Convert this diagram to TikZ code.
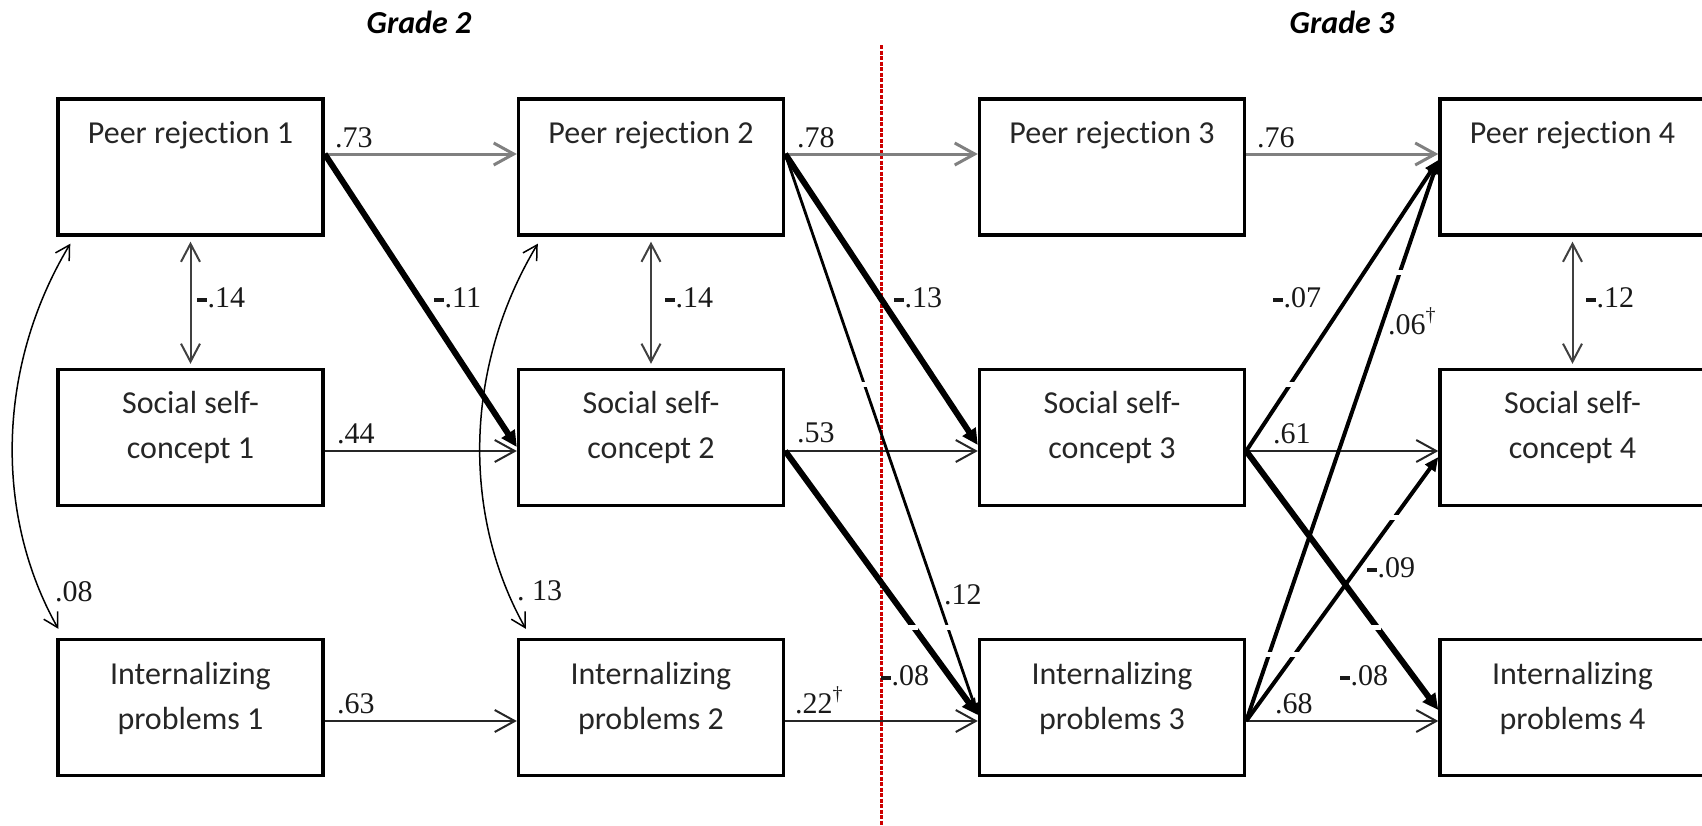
\documentclass[tikz,border=0pt]{standalone}
\usepackage{fontspec}
\setmainfont{Liberation Serif}
\newfontfamily\calib[Ligatures={NoCommon,NoContextual}]{Carlito}
\usetikzlibrary{arrows.meta}
\tikzset{
  box/.style={draw=black, line width=3.4pt, minimum width=265pt, minimum height=136pt, inner sep=0pt},
  btext/.style={font=\calib\fontsize{32}{45}\selectfont, text=black!85, anchor=base, inner sep=0pt},
  coef/.style={font=\fontsize{30}{36}\selectfont, text=black!90, anchor=base west, inner sep=0pt},
  grade/.style={font=\calib\bfseries\itshape\fontsize{32}{38}\selectfont, anchor=base, inner sep=0pt},
  hpr/.style={draw=black!50, line width=3pt, -{Straight Barb[length=20pt,width=22pt]}},
  hth/.style={draw=black!85, line width=2pt, -{Straight Barb[length=20pt,width=22pt]}},
  dbl/.style={draw=black!75, line width=2pt, {Straight Barb[length=18pt,width=19pt]}-{Straight Barb[length=18pt,width=19pt]}},
  arcst/.style={draw=black, line width=1.5pt, {Straight Barb[length=14pt,width=16pt]}-{Straight Barb[length=14pt,width=16pt]}},
  heavy/.style={draw=black, line width=6pt, -{Triangle[length=16pt,width=15pt]}},
  med/.style={draw=black, line width=4pt, -{Triangle[length=14pt,width=12pt]}},
  light/.style={draw=black, line width=2.8pt, -{Triangle[length=12pt,width=10pt]}},
  divider/.style={draw={rgb,255:red,205;green,0;blue,0}, line width=3pt, dash pattern=on 4pt off 1.5pt},
  gap/.style={fill=white, draw=none}
}
\newcommand{\dg}{\raisebox{13pt}{\fontsize{20}{20}\selectfont †}}
\newcommand{\mn}{\rule[5pt]{9.5pt}{3.6pt}\hspace{1pt}}
\newcommand{\prj}{Peer rejec\kern0pt tion}
\begin{document}
\begin{tikzpicture}[x=1pt,y=-1pt]
\useasboundingbox (0,0) rectangle (1702,825);
\clip (0,0) rectangle (1702,825);

% grade labels
\node[grade] (g2) at (419,33) {Grade 2};
\node[grade] (g3) at (1342,33) {Grade 3};

% divider
\coordinate (dtop) at (881,45);
\coordinate (dbot) at (881,825);
\draw[divider] (dtop) -- (dbot);

% boxes
\node[box] (pr1) at (190.5,167) {};
\node[box] (pr2) at (651,167) {};
\node[box] (pr3) at (1112,167) {};
\node[box] (pr4) at (1572.5,167) {};
\node[box] (sc1) at (190.5,437.5) {};
\node[box] (sc2) at (651,437.5) {};
\node[box] (sc3) at (1112,437.5) {};
\node[box] (sc4) at (1572.5,437.5) {};
\node[box] (ip1) at (190.5,707.5) {};
\node[box] (ip2) at (651,707.5) {};
\node[box] (ip3) at (1112,707.5) {};
\node[box] (ip4) at (1572.5,707.5) {};

% box texts
\node[btext] (tpr1) at (190.5,143) {\prj{} 1};
\node[btext] (tpr2) at (651,143) {\prj{} 2};
\node[btext] (tpr3) at (1112,143) {\prj{} 3};
\node[btext] (tpr4) at (1572.5,143) {\prj{} 4};
\foreach \n/\x in {1/190.5,2/651,3/1112,4/1572.5}{
  \node[btext] (tsc\n) at (\x,413) {\begin{tabular}[t]{@{}c@{}}Social self-\\concept \n\end{tabular}};
  \node[btext] (tip\n) at (\x,684) {\begin{tabular}[t]{@{}c@{}}Internalizing\\problems \n\end{tabular}};
}

% horizontal paths
\draw[hpr] ([yshift=13pt]pr1.east) -- ([yshift=13pt]pr2.west);
\draw[hpr] ([yshift=13pt]pr2.east) -- ([yshift=13pt]pr3.west);
\draw[hpr] ([yshift=13pt]pr3.east) -- ([yshift=13pt]pr4.west);
\draw[hth] ([yshift=-13.5pt]sc1.east) -- ([yshift=-13.5pt]sc2.west);
\draw[hth] ([yshift=-13.5pt]sc2.east) -- ([yshift=-13.5pt]sc3.west);
\draw[hth] ([yshift=-13.5pt]sc3.east) -- ([yshift=-13.5pt]sc4.west);
\draw[hth] ([yshift=-13.5pt]ip1.east) -- ([yshift=-13.5pt]ip2.west);
\draw[hth] ([yshift=-13.5pt]ip2.east) -- ([yshift=-13.5pt]ip3.west);
\draw[hth] ([yshift=-13.5pt]ip3.east) -- ([yshift=-13.5pt]ip4.west);

% correlations
\draw[dbl] ([yshift=-5pt]pr1.south) -- ([yshift=4pt]sc1.north);
\draw[dbl] ([yshift=-5pt]pr2.south) -- ([yshift=4pt]sc2.north);
\draw[dbl] ([yshift=-5pt]pr4.south) -- ([yshift=4pt]sc4.north);
\draw[arcst] ([xshift=14pt,yshift=-7pt]pr1.south west) .. controls +(-75,125) and +(-63,-112) .. ([xshift=2pt,yshift=9pt]ip1.north west);
\draw[arcst] ([xshift=21pt,yshift=-7pt]pr2.south west) .. controls +(-75,125) and +(-63,-112) .. ([xshift=9pt,yshift=9pt]ip2.north west);

% cross-lagged paths
\draw[heavy] ([yshift=13pt]pr1.east) -- ([yshift=-9.5pt]sc2.west);
\draw[heavy] ([yshift=13pt]pr2.east) -- ([yshift=-7.5pt]sc3.west);
\draw[light] ([yshift=13pt]pr2.east) -- ([yshift=-7.5pt]ip3.west);
\draw[heavy] ([yshift=-13.5pt]sc2.east) -- ([yshift=-7.5pt]ip3.west);
\draw[med] ([yshift=-13.5pt]sc3.east) -- ([yshift=7pt]pr4.west);
\draw[med] ([yshift=-13.5pt]ip3.east) -- ([yshift=7pt]pr4.west);
\draw[heavy] ([yshift=-13.5pt]sc3.east) -- ([yshift=-2.5pt]ip4.west);
\draw[med] ([yshift=-13.5pt]ip3.east) -- ([yshift=-19.5pt]sc4.west);

% small white breaks in the lines
\foreach \gx/\gy in {862/384,910/627,948/627,1288/384,1403/272,1373/627,1269/654,1296/654,1392/517}{
  \fill[gap] (\gx-8,\gy-2.5) rectangle (\gx+8,\gy+2.5);
}

% coefficients
\node[coef] (c73) at (335,147) {.73};
\node[coef] (c78) at (797,147) {.78};
\node[coef] (c76) at (1257,147) {.76};
\node[coef] (c44) at (337,443) {.44};
\node[coef] (c53) at (797,442) {.53};
\node[coef] (c61) at (1273,443) {.61};
\node[coef] (c63) at (337,713) {.63};
\node[coef] (c22) at (795,713) {.22\dg};
\node[coef] (c68) at (1275,713) {.68};
\node[coef] (c14a) at (197,307) {\mn.14};
\node[coef] (c11) at (434,307) {\mn.11};
\node[coef] (c14b) at (665,307) {\mn.14};
\node[coef] (c13) at (894,307) {\mn.13};
\node[coef] (c08a) at (881,685) {\mn.08};
\node[coef] (c12b) at (944,604) {.12};
\node[coef] (c08) at (55,601) {.08};
\node[coef] (c13b) at (517,600) {.\ 13};
\node[coef] (c07) at (1273,307) {\mn.07};
\node[coef] (c06) at (1388,334) {.06\dg};
\node[coef] (c12) at (1586,307) {\mn.12};
\node[coef] (c09) at (1367,577) {\mn.09};
\node[coef] (c08b) at (1340,685) {\mn.08};
\end{tikzpicture}
\end{document}
